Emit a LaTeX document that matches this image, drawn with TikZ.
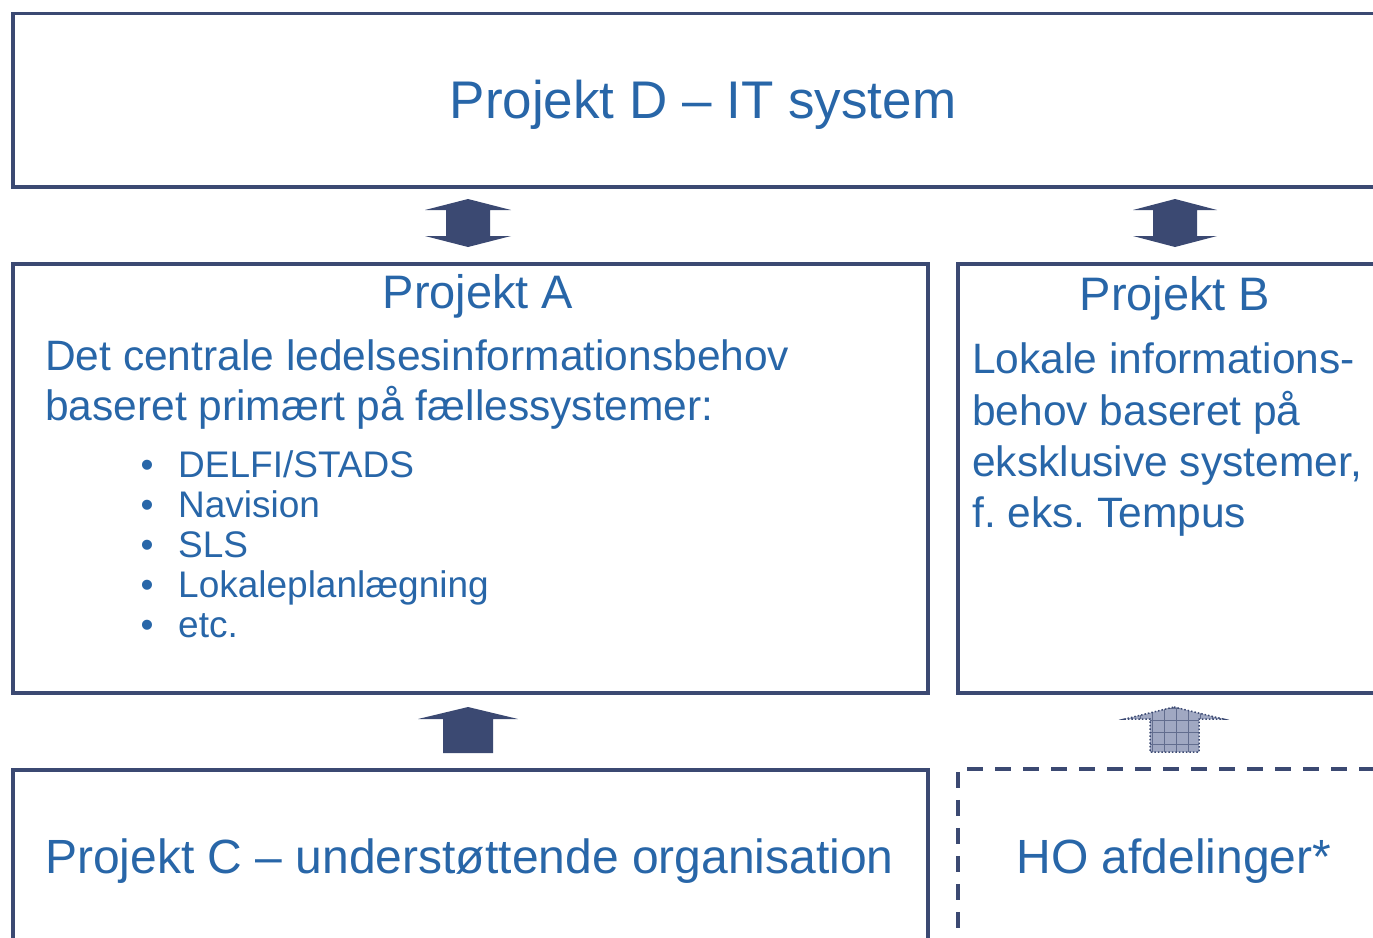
\documentclass[tikz,border=0pt]{standalone}
\usepackage{fontspec}
\setmainfont{Liberation Sans}
\frenchspacing
\definecolor{navy}{RGB}{59,73,114}
\definecolor{txt}{RGB}{40,102,168}
\definecolor{patfill}{RGB}{160,168,194}
\begin{document}
\begin{tikzpicture}[x=1pt,y=-1pt,
  box/.style={draw=navy,line width=3.5pt,inner sep=0pt,anchor=north west},
  dbox/.style={box,dash pattern=on 16pt off 12pt,line width=3.5pt},
  lbl/.style={text=txt,inner sep=0pt},
  blockarrow/.style={fill=navy,draw=none}]
\clip (0,0) rectangle (1373,937);
% boxes
\node[box,minimum width=1379pt,minimum height=173.5pt] (D) at (11,11.5) {};
\node[box,minimum width=915pt,minimum height=429pt] (A) at (11,262) {};
\node[box,minimum width=434pt,minimum height=429pt] (B) at (956,262) {};
\node[box,minimum width=915pt,minimum height=192pt] (C) at (11,768) {};
\node[dbox,minimum width=434pt,minimum height=193pt] (HO) at (956,767) {};
% texts
\node[lbl,anchor=base] (tD) at (703,118) {\fontsize{53}{62}\selectfont Projekt D – IT system};
\node[lbl,anchor=base] (tA) at (478,308) {\fontsize{47}{56}\selectfont Projekt A};
\node[lbl,anchor=base west] (a1) at (45,370) {\fontsize{42.5}{50}\selectfont Det centrale ledelsesinformationsbehov};
\node[lbl,anchor=base west] (a2) at (45,420) {\fontsize{42.5}{50}\selectfont baseret primært på fællessystemer:};
\foreach \t [count=\i] in {DELFI/STADS,Navision,SLS,Lokaleplanlægning,etc.}{
  \node[lbl,anchor=base] (bul\i) at (147,437+40*\i) {\fontsize{37}{40}\selectfont •};
  \node[lbl,anchor=base west] (it\i) at (178,437+40*\i) {\fontsize{37}{40}\selectfont \t};
}
\node[lbl,anchor=base] (tB) at (1175,310) {\fontsize{47}{56}\selectfont Projekt B};
\node[lbl,anchor=base west] (b1) at (972,373) {\fontsize{42.5}{50}\selectfont Lokale informations-};
\node[lbl,anchor=base west] (b2) at (972,425) {\fontsize{42.5}{50}\selectfont behov baseret på};
\node[lbl,anchor=base west] (b3) at (972,476) {\fontsize{42.5}{50}\selectfont eksklusive systemer,};
\node[lbl,anchor=base west] (b4) at (972,527) {\fontsize{42.5}{50}\selectfont f. eks. Tempus};
\node[lbl,anchor=base west] (tC) at (45,873) {\fontsize{48}{58}\selectfont Projekt C – understøttende organisation};
\node[lbl,anchor=base] (tHO) at (1174,873) {\fontsize{48}{58}\selectfont HO afdelinger*};
% double arrows D <-> A, D <-> B
\foreach \cx/\hw/\sw in {468/43/22, 1175/42/22}{
  \fill[blockarrow] (\cx,199) -- (\cx+\hw,210) -- (\cx+\sw,210) -- (\cx+\sw,236) -- (\cx+\hw,236)
    -- (\cx,247) -- (\cx-\hw,236) -- (\cx-\sw,236) -- (\cx-\sw,210) -- (\cx-\hw,210) -- cycle;
}
% up arrow C -> A
\fill[blockarrow] (468,707) -- (518,719) -- (493,719) -- (493,753) -- (443,753) -- (443,719) -- (418,719) -- cycle;
% patterned arrow HO -> B
\begin{scope}
  \clip (1174,707) -- (1223,719) -- (1199,719) -- (1199,752) -- (1150,752) -- (1150,719) -- (1125,719) -- cycle;
  \fill[patfill] (1120,700) rectangle (1230,760);
  \draw[navy!80,line width=0.8pt] (1126,700) grid[step=12pt] (1230,760);
\end{scope}
\draw[navy,line width=1.5pt,dotted] (1174,707) -- (1223,719) -- (1199,719) -- (1199,752) -- (1150,752) -- (1150,719) -- (1125,719) -- cycle;
\end{tikzpicture}
\end{document}
